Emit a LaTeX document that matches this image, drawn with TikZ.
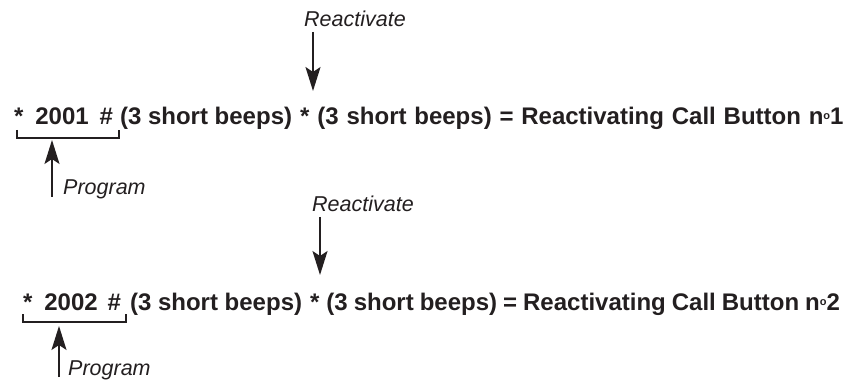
\documentclass[tikz,border=0pt]{standalone}
\usepackage{fontspec}
\setmainfont{Liberation Sans}
\usetikzlibrary{arrows.meta}
\definecolor{ink}{HTML}{231F20}
\newcommand{\ordo}{\raisebox{5pt}{\fontsize{11}{11}\selectfont o}}
\begin{document}
\begin{tikzpicture}[x=1pt,y=1pt,
  main/.style={inner sep=0pt,outer sep=0pt,anchor=base west,text=ink,font=\fontsize{24}{28}\selectfont\bfseries},
  lbl/.style={inner sep=0pt,anchor=base west,text=ink,font=\fontsize{21.5}{25}\selectfont\itshape},
  bracketline/.style={draw=ink,line width=1.8pt},
  arr/.style={draw=ink,line width=1.8pt,-{Stealth[length=24pt,width=15pt,inset=5pt]}}]
\useasboundingbox (0,0) rectangle (853,383);
% ---- line 1 ----
\node[main] (p1) at (14,258) {*\hspace{12pt}2001\hspace{11pt}\#};
\node[main] (b1) at ([xshift=7pt]p1.base east) {(3 short beeps)};
\node[main] (s1) at ([xshift=8pt]b1.base east) {*};
\node[main] (r1) at ([xshift=8pt]s1.base east) {\spaceskip=7.8pt (3 short beeps) = Reactivating Call Button n\ordo1};
\coordinate (bl1) at (17,253);
\coordinate (br1) at (119,253);
\draw[bracketline] (bl1) -- ++(0,-8) -| (br1);
\coordinate (bm1) at (52,243);
\node[lbl] (prog1) at (63,188) {Program};
\coordinate (pt1) at (52,186);
\draw[arr] (pt1) -- (bm1);
\node[lbl] (re1) at (304,356) {Reactivate};
\coordinate (rt1) at (313,351);
\coordinate (rh1) at (313,292);
\draw[arr] (rt1) -- (rh1);
% ---- line 2 ----
\node[main] (p2) at (23,73) {*\hspace{12pt}2002\hspace{10pt}\#};
\node[main] (b2) at ([xshift=9pt]p2.base east) {(3 short beeps)};
\node[main] (s2) at ([xshift=8pt]b2.base east) {*};
\node[main] (r2) at ([xshift=7pt]s2.base east) {\spaceskip=6pt (3 short beeps) = Reactivating Call Button n\ordo2};
\coordinate (bl2) at (23,69);
\coordinate (br2) at (126,69);
\draw[bracketline] (bl2) -- ++(0,-8) -| (br2);
\coordinate (bm2) at (59,57);
\node[lbl] (prog2) at (68,8) {Program};
\coordinate (pt2) at (59,6);
\draw[arr] (pt2) -- (bm2);
\node[lbl] (re2) at (312,171) {Reactivate};
\coordinate (rt2) at (320,166);
\coordinate (rh2) at (320,108);
\draw[arr] (rt2) -- (rh2);
\end{tikzpicture}
\end{document}
